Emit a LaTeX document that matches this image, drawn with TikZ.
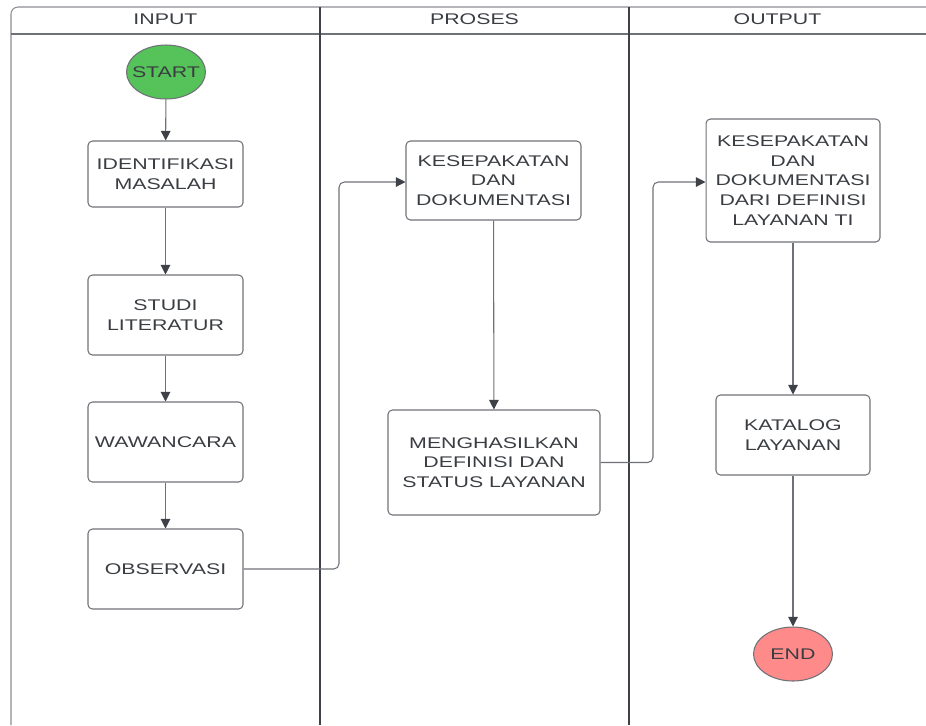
\documentclass[tikz,border=0pt]{standalone}
\usepackage{fontspec}
\setmainfont{Liberation Sans}[FakeStretch=1.38]
\usetikzlibrary{arrows.meta,shapes.geometric}

\definecolor{linegray}{HTML}{6E7177}
\definecolor{lanegray}{HTML}{3E4147}
\definecolor{txtgray}{HTML}{3A3D42}
\definecolor{startgreen}{HTML}{55C25A}
\definecolor{endred}{HTML}{FF8A8A}

\tikzset{
  lbl/.style={text=txtgray, font=\fontsize{8.8}{11.2}\selectfont, align=center},
  proc/.style={lbl, draw=linegray, line width=0.6pt, rounded corners=2.5pt, inner sep=0pt},
  term/.style={lbl, ellipse, draw=linegray, line width=0.6pt, inner ysep=0pt, inner xsep=-4pt,
    minimum width=1.58cm, minimum height=1.08cm},
  flow/.style={draw=linegray, line width=0.6pt, rounded corners=3pt,
    -{Triangle[length=5.5pt,width=5.5pt,color=lanegray]}}
}

\begin{document}
\begin{tikzpicture}[x=0.02cm,y=-0.02cm]
    \useasboundingbox (0,0) rectangle (926,725);
    % lanes
    \draw[linegray!80, line width=0.6pt, rounded corners=4pt] (11,725) -- (11,7) -- (926,7);
    \draw[linegray, line width=0.6pt] (11,34) -- (926,34);
    \draw[lanegray, line width=0.6pt] (320,7) -- (320,725);
    \draw[lanegray, line width=0.6pt] (629,7) -- (629,725);
    \node[lbl] (hinput) at (165.5,19) {INPUT};
    \node[lbl] (hproses) at (474.5,19) {PROSES};
    \node[lbl] (houtput) at (777.5,19) {OUTPUT};

    % input
    \node[term, fill=startgreen] (start) at (166,72) {START};
    \node[proc, minimum width=3.1cm, minimum height=1.32cm] (ident) at (165.5,174) {IDENTIFIKASI\\MASALAH};
    \node[proc, minimum width=3.1cm, minimum height=1.6cm] (studi) at (165.5,315) {STUDI\\LITERATUR};
    \node[proc, minimum width=3.1cm, minimum height=1.6cm] (wawancara) at (165.5,442) {WAWANCARA};
    \node[proc, minimum width=3.1cm, minimum height=1.6cm] (observasi) at (165.5,569) {OBSERVASI};

    % proses
    \node[proc, minimum width=3.5cm, minimum height=1.58cm] (sepakat) at (493.5,180.5) {KESEPAKATAN\\DAN\\DOKUMENTASI};
    \node[proc, minimum width=4.24cm, minimum height=2.1cm] (hasil) at (494,462.5) {MENGHASILKAN\\DEFINISI DAN\\STATUS LAYANAN};

    % output
    \node[proc, minimum width=3.48cm, minimum height=2.46cm] (dokumen) at (793,180.5) {KESEPAKATAN\\DAN\\DOKUMENTASI\\DARI DEFINISI\\LAYANAN TI};
    \node[proc, minimum width=3.08cm, minimum height=1.6cm] (katalog) at (793,435) {KATALOG\\LAYANAN};
    \node[term, fill=endred] (end) at (793,654) {END};

    \coordinate (bendA) at (339,182);
    \coordinate (bendB) at (653,182);

    \draw[flow] (start) -- (ident);
    \draw[flow] (ident) -- (studi);
    \draw[flow] (studi) -- (wawancara);
    \draw[flow] (wawancara) -- (observasi);
    \draw[flow] (observasi.east) -| (bendA) -- (bendA -| sepakat.west);
    \draw[flow] (sepakat) -- (hasil);
    \draw[flow] (hasil.east) -| (bendB) -- (bendB -| dokumen.west);
    \draw[flow] (dokumen) -- (katalog);
    \draw[flow] (katalog) -- (end);
\end{tikzpicture}
\end{document}
